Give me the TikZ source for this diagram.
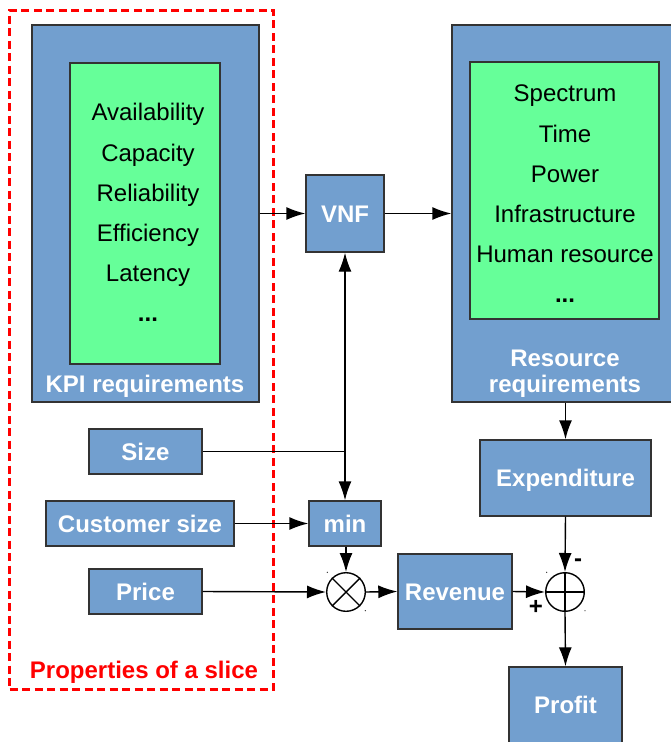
\documentclass[tikz,border=0pt]{standalone}
\usepackage{fontspec}
\setmainfont{Liberation Sans}
\usetikzlibrary{arrows.meta}
\definecolor{boxblue}{HTML}{729FCF}
\definecolor{kpigreen}{HTML}{66FF99}
\definecolor{edgegray}{HTML}{333333}
\definecolor{slicered}{HTML}{FF0000}
\begin{document}
\begin{tikzpicture}[x=1pt,y=-1pt,
  txt/.style={font=\fontsize{24}{28}\selectfont, inner sep=0pt, text height=17.2pt, text depth=0pt},
  bluebox/.style={txt, draw=edgegray, line width=1.4pt, fill=boxblue, text=white, font=\fontsize{24}{28}\selectfont\bfseries},
  greenbox/.style={draw=edgegray, line width=1.4pt, fill=kpigreen, inner sep=0pt},
  item/.style={txt, text=black},
  whitelabel/.style={txt, text=white, font=\fontsize{24}{28}\selectfont\bfseries},
  signlabel/.style={txt, text=black, font=\fontsize{24}{28}\selectfont\bfseries},
  opcircle/.style={circle, draw=black, line width=1.4pt, fill=white, minimum size=38.6pt, inner sep=0pt},
  conn/.style={line width=1.4pt, -{Latex[length=19pt,width=13pt]}},
  wire/.style={line width=1.4pt},
  cornerdot/.style={circle, fill=edgegray, inner sep=0pt, minimum size=1.4pt},
]
\useasboundingbox (0,0) rectangle (671,742);

% KPI block
\node[bluebox, minimum width=227pt, minimum height=377pt] (kpi) at (145.5,213.5) {};
\node[greenbox, minimum width=150pt, minimum height=301pt] (kpiin) at (145,213.5) {};
\node[item] (k1) at (148,112) {Availability};
\node[item] (k2) at (148,153) {Capacity};
\node[item] (k3) at (148,193) {Reliability};
\node[item] (k4) at (148,233) {Efficiency};
\node[item] (k5) at (148,273) {Latency};
\node[item, font=\fontsize{24}{28}\selectfont\bfseries] (k6) at (148,313) {...};
\node[whitelabel] (kpilab) at (145,384) {KPI requirements};

% Resource block
\node[bluebox, minimum width=226pt, minimum height=377pt] (res) at (565,213.5) {};
\node[greenbox, minimum width=189pt, minimum height=257pt] (resin) at (564.5,190.5) {};
\node[item] (r1) at (565,93) {Spectrum};
\node[item] (r2) at (565,134) {Time};
\node[item] (r3) at (565,174) {Power};
\node[item] (r4) at (565,214) {Infrastructure};
\node[item] (r5) at (565,254) {Human resource};
\node[item, font=\fontsize{24}{28}\selectfont\bfseries] (r6) at (565,294) {...};
\node[whitelabel] (reslab1) at (565,358) {Resource};
\node[whitelabel] (reslab2) at (565,384) {requirements};

% Blocks
\node[bluebox, minimum width=78pt, minimum height=77pt] (vnf) at (345,213.5) {VNF};
\node[bluebox, minimum width=113pt, minimum height=45pt] (size) at (145.5,451.5) {Size};
\node[bluebox, minimum width=188pt, minimum height=45pt] (csize) at (140,523.5) {Customer size};
\node[bluebox, minimum width=113pt, minimum height=45pt] (price) at (145.5,591.5) {Price};
\node[bluebox, minimum width=72pt, minimum height=45pt] (min) at (345,523.5) {min};
\node[bluebox, minimum width=114pt, minimum height=75pt] (rev) at (455,591.5) {Revenue};
\node[bluebox, minimum width=171pt, minimum height=76pt] (exp) at (565.5,478) {Expenditure};
\node[bluebox, minimum width=113pt, minimum height=76pt] (profit) at (565.5,705) {Profit};

% Operators
\node[opcircle] (mult) at (346,592) {};
\draw[line width=1.4pt] (mult.45) -- (mult.225) (mult.135) -- (mult.315);
\node[opcircle] (sum) at (565,592) {};
\draw[line width=1.4pt] (sum.north) -- (sum.south) (sum.west) -- (sum.east);
\node[cornerdot] (d1) at (327.3,572.3) {};
\node[cornerdot] (d2) at (365.3,610.7) {};
\node[cornerdot] (d3) at (546.7,572.3) {};
\node[cornerdot] (d4) at (585,610.7) {};
\node[signlabel] (minus) at (578,558) {-};
\node[signlabel] (plus) at (536,606) {+};

% Slice frame
\node[draw=slicered, line width=3pt, dash pattern=on 8pt off 4.5pt, minimum width=264pt, minimum height=679pt, inner sep=0pt] (slice) at (141.5,349.5) {};
\node[txt, text=slicered, font=\fontsize{24}{28}\selectfont\bfseries] (slicelab) at (144,670) {Properties of a slice};

% Connectors
\draw[conn] (kpi.east |- vnf.west) -- (vnf.west);
\draw[conn] (vnf.east) -- (res.west |- vnf.east);
\draw[conn] (res.south -| exp.north) -- (exp.north);
\draw[conn] (exp.south) -- (sum.north);
\draw[conn] (rev.east) -- (sum.west);
\draw[conn] (sum.south) -- (profit.north);
\draw[conn] (mult.east) -- (rev.west);
\draw[conn] (price.east) -- (mult.west);
\draw[conn] (min.south -| mult.north) -- (mult.north);
\draw[conn] (csize.east) -- (min.west);
\coordinate (j) at (vnf.south |- size.east);
\draw[wire] (size.east) -- (j);
\draw[conn] (j) -- (vnf.south);
\draw[conn] (j) -- (min.north);
\end{tikzpicture}
\end{document}
